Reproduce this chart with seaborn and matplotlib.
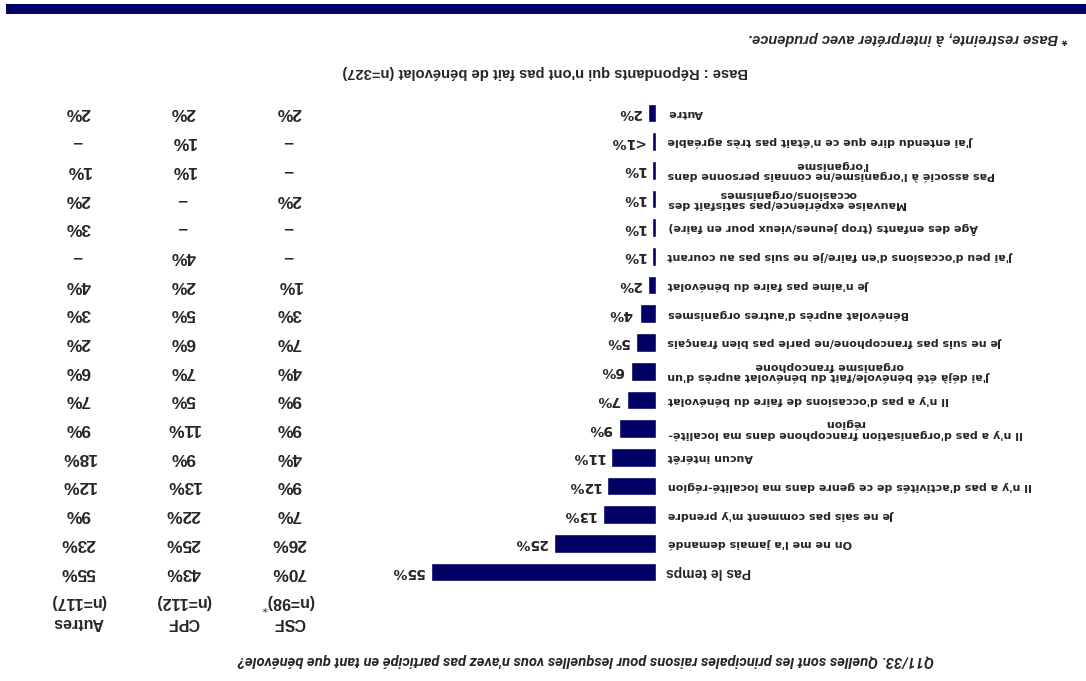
import matplotlib
matplotlib.use('Agg')
import matplotlib.pyplot as plt
import matplotlib.transforms as mtransforms
from matplotlib.patches import Rectangle
import pandas as pd
import seaborn as sns

# la figure de référence est tournée de 180 degrés : on dessine donc tout à l'envers
raisons = [
    "Pas le temps",
    "On ne me l'a jamais demandé",
    "Je ne sais pas comment m'y prendre",
    "Il n'y a pas d'activités de ce genre dans ma localité-région",
    "Aucun intérêt",
    "Il n'y a pas d'organisation francophone dans ma localité-\nrégion",
    "Il n'y a pas d'occasions de faire du bénévolat",
    "J'ai déjà été bénévole/fait du bénévolat auprès d'un\norganisme francophone",
    "Je ne suis pas francophone/ne parle pas bien français",
    "Bénévolat auprès d'autres organismes",
    "Je n'aime pas faire du bénévolat",
    "J'ai peu d'occasions d'en faire/je ne suis pas au courant",
    "Âge des enfants (trop jeunes/vieux pour en faire)",
    "Mauvaise expérience/pas satisfait des\noccasions/organismes",
    "Pas associé à l'organisme/ne connais personne dans\nl'organisme",
    "J'ai entendu dire que ce n'était pas très agréable",
    "Autre",
]
total = [55, 25, 13, 12, 11, 9, 7, 6, 5, 4, 2, 1, 1, 1, 1, 1, 2]
total_txt = ['55%', '25%', '13%', '12%', '11%', '9%', '7%', '6%', '5%', '4%',
             '2%', '1%', '1%', '1%', '1%', '<1%', '2%']
csf = ['70%', '26%', '7%', '9%', '4%', '9%', '9%', '4%', '7%', '3%',
       '1%', '–', '–', '2%', '–', '–', '2%']
cpf = ['43%', '25%', '22%', '13%', '9%', '11%', '5%', '7%', '6%', '5%',
       '2%', '4%', '–', '–', '1%', '1%', '2%']
autres = ['55%', '23%', '9%', '12%', '18%', '9%', '7%', '6%', '2%', '3%',
          '4%', '–', '3%', '2%', '1%', '–', '2%']
groupes = ['CSF', 'CPF', 'Autres']
effectifs = ['(n=98)$^{*}$', '(n=112)', '(n=117)']

titre = ("Q11/33. Quelles sont les principales raisons pour lesquelles vous "
         "n'avez pas participé en tant que bénévole?")
base = "Base : Répondants qui n'ont pas fait de bénévolat (n=327)"
note = "* Base restreinte, à interpréter avec prudence."

W, H = 1086, 681
MARINE = '#000066'

def fx(px):
    return px / W

def fy(py):
    return 1 - py / H

sns.set_style('white')
plt.rcParams['font.family'] = ['DejaVu Sans']

df = pd.DataFrame({'raison': raisons, 'valeur': total})

fig = plt.figure(figsize=(W / 100, H / 100), dpi=100)
ax = fig.add_axes([431 / W, 94.6 / H, 225 / W, 487.8 / H])
sns.barplot(data=df, x='valeur', y='raison', orient='h', color=MARINE,
            saturation=1, width=0.65, ax=ax)
ax.set_xlim(55, 0)
ax.set_ylim(-0.5, len(raisons) - 0.5)
ax.axis('off')

trans = mtransforms.blended_transform_factory(fig.transFigure, ax.transData)

for i, (v, t) in enumerate(zip(total, total_txt)):
    ax.annotate(t, (v, i), xytext=(-5, 0), textcoords='offset points',
                ha='right', va='center', rotation=180, fontsize=10,
                fontweight='bold', annotation_clip=False)

for i, r in enumerate(raisons):
    if i == 0:
        ax.text(fx(666), i, r, transform=trans, ha='left', va='center',
                rotation=180, fontsize=10, fontweight='bold',
                family='Liberation Sans')
    else:
        ax.text(fx(668), i, r, transform=trans, ha='left', va='center',
                rotation=180, multialignment='center', fontsize=8,
                fontweight='bold', linespacing=1.0)

col_x = [289, 183, 78]
for cx, vals, g, n in zip(col_x, [csf, cpf, autres], groupes, effectifs):
    for i, t in enumerate(vals):
        ax.text(fx(cx), i, t, transform=trans, ha='center', va='center',
                rotation=180, fontsize=12.5, fontweight='bold',
                family='Liberation Sans')
    fig.text(fx(cx), fy(622), g, ha='center', va='center', rotation=180,
             fontsize=11.5, fontweight='bold', family='Liberation Sans')
    fig.text(fx(cx), fy(602), n, ha='center', va='center', rotation=180,
             fontsize=11.5, fontweight='bold', family='Liberation Sans')

fig.text(fx(586), fy(660), titre, ha='center', va='center', rotation=180,
         fontsize=10.6, fontweight='bold', style='italic', family='Roboto')
fig.text(fx(545), fy(72), base, ha='center', va='center', rotation=180,
         fontsize=10.6, fontweight='bold', family='Liberation Sans')
fig.text(fx(1068), fy(38), note, ha='right', va='center', rotation=180,
         fontsize=10.5, fontweight='bold', style='italic',
         family='Liberation Sans')

fig.add_artist(Rectangle((fx(6), fy(14)), 1 - fx(6), 10 / H,
                         transform=fig.transFigure, color=MARINE, lw=0))

fig.savefig('out.png', dpi=100)
